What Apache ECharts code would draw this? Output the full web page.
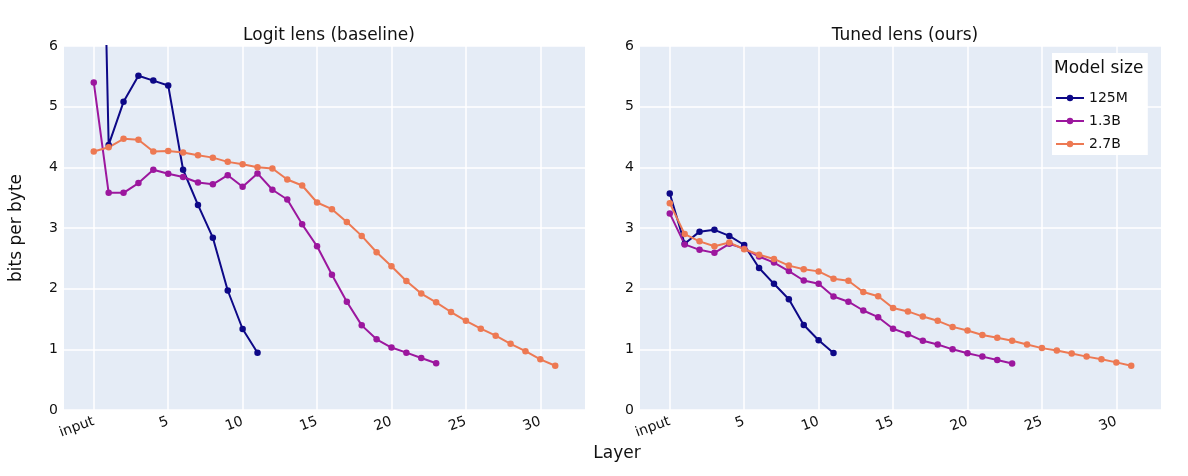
<!DOCTYPE html>
<html>
<head>
<meta charset="utf-8">
<script src="https://cdn.jsdelivr.net/npm/echarts@6/dist/echarts.min.js"></script>
<style>
html,body{margin:0;padding:0;background:#fff;}
#chart{width:1188px;height:476px;}
</style>
</head>
<body>
<div id="chart"></div>
<script>
// ---- data ----
const panelTitles = ["Logit lens (baseline)", "Tuned lens (ours)"];
const seriesNames = ["125M", "1.3B", "2.7B"];
const xTickValues = [0, 5, 10, 15, 20, 25, 30];
const xTickLabels = ["input", "5", "10", "15", "20", "25", "30"];
const yTickValues = [0, 1, 2, 3, 4, 5, 6];

// Logit lens (baseline)
const logit125M = [15.5, 4.37, 5.08, 5.51, 5.43, 5.35, 3.96, 3.38, 2.84, 1.97, 1.335, 0.945];
const logit13B = [5.40, 3.58, 3.58, 3.74, 3.96, 3.895, 3.84, 3.75, 3.72, 3.87, 3.68, 3.90,
  3.63, 3.47, 3.06, 2.70, 2.23, 1.785, 1.395, 1.165, 1.03, 0.945, 0.857, 0.77];
const logit27B = [4.26, 4.33, 4.47, 4.455, 4.26, 4.27, 4.245, 4.20, 4.16, 4.09, 4.05, 4.00,
  3.98, 3.80, 3.70, 3.42, 3.31, 3.10, 2.87, 2.60, 2.37, 2.126, 1.92, 1.775,
  1.615, 1.47, 1.34, 1.225, 1.09, 0.97, 0.835, 0.73];

// Tuned lens (ours)
const tuned125M = [3.57, 2.74, 2.94, 2.97, 2.87, 2.72, 2.34, 2.08, 1.825, 1.40, 1.15, 0.94];
const tuned13B = [3.24, 2.73, 2.64, 2.59, 2.74, 2.66, 2.53, 2.43, 2.29, 2.135, 2.08, 1.87,
  1.785, 1.64, 1.53, 1.34, 1.25, 1.14, 1.08, 1.00, 0.935, 0.88, 0.824, 0.765];
const tuned27B = [3.41, 2.90, 2.78, 2.70, 2.76, 2.65, 2.56, 2.49, 2.38, 2.32, 2.285, 2.165,
  2.13, 1.945, 1.875, 1.68, 1.625, 1.54, 1.47, 1.37, 1.31, 1.235, 1.19, 1.14,
  1.08, 1.02, 0.98, 0.93, 0.88, 0.835, 0.785, 0.73];

const colors = ["#0d0887", "#9c179e", "#ed7953"];
const FONT = "DejaVu Sans";
const TXT = "#111111";

function pairs(arr){ return arr.map((v,i)=>[i,v]); }

const panels = [[logit125M, logit13B, logit27B], [tuned125M, tuned13B, tuned27B]];

const grids = [
  {left: 64, right: 1188-585, top: 46, bottom: 476-410},
  {left: 640, right: 1188-1161, top: 46, bottom: 476-410}
].map(g => Object.assign(g, {show: true, backgroundColor: "#E5ECF6", borderWidth: 0, containLabel: false}));

const xAxes = [0,1].map(i => ({
  type: "value", gridIndex: i, min: -2, max: 33,
  axisLine: {show: false},
  axisTick: {show: false, customValues: xTickValues},
  axisLabel: {
    customValues: xTickValues,
    rotate: 20, fontFamily: FONT, fontSize: 14, color: TXT, margin: 11,
    formatter: v => xTickLabels[xTickValues.indexOf(v)] ?? ""
  },
  splitLine: {show: true, lineStyle: {color: "#ffffff", width: 1.5}}
}));

const yAxes = [0,1].map(i => ({
  type: "value", gridIndex: i, min: 0, max: 6, interval: 1,
  axisLine: {show: false}, axisTick: {show: false},
  axisLabel: {fontFamily: FONT, fontSize: 14, color: TXT, margin: 6},
  splitLine: {show: true, lineStyle: {color: "#ffffff", width: 1.5}},
  name: i === 0 ? "bits per byte" : "",
  nameLocation: "middle", nameGap: 39,
  nameTextStyle: {fontFamily: FONT, fontSize: 17, color: TXT}
}));

const series = [];
panels.forEach((panel, pi) => {
  panel.forEach((arr, si) => {
    series.push({
      name: seriesNames[si], type: "line",
      xAxisIndex: pi, yAxisIndex: pi,
      data: pairs(arr),
      clip: true,
      symbol: "circle", symbolSize: 6.5,
      lineStyle: {color: colors[si], width: 2},
      itemStyle: {color: colors[si]},
      emphasis: {disabled: true},
      animation: false
    });
  });
});

const option = {
  animation: false,
  textStyle: {fontFamily: FONT},
  title: [
    {text: panelTitles[0], left: 324, top: 22, textAlign: "center",
      textStyle: {fontFamily: FONT, fontSize: 17, fontWeight: "normal", color: TXT}},
    {text: panelTitles[1], left: 900, top: 22, textAlign: "center",
      textStyle: {fontFamily: FONT, fontSize: 17, fontWeight: "normal", color: TXT}},
    {text: "Layer", left: 612, top: 440, textAlign: "center",
      textStyle: {fontFamily: FONT, fontSize: 17, fontWeight: "normal", color: TXT}},
    {text: "Model size", left: 1054, top: 60, z: 10,
      textStyle: {fontFamily: FONT, fontSize: 17, fontWeight: "normal", color: TXT}, padding: 0}
  ],
  legend: {
    orient: "vertical", left: 1052, top: 53,
    padding: [38, 20, 4, 3],
    backgroundColor: "#ffffff",
    itemWidth: 28, itemHeight: 8, itemGap: 9,
    data: seriesNames,
    textStyle: {fontFamily: FONT, fontSize: 14, color: TXT},
    selectedMode: false
  },
  grid: grids,
  xAxis: xAxes,
  yAxis: yAxes,
  series: series
};

const chart = echarts.init(document.getElementById("chart"), null, {renderer: "canvas"});
chart.setOption(option);
</script>
</body>
</html>
